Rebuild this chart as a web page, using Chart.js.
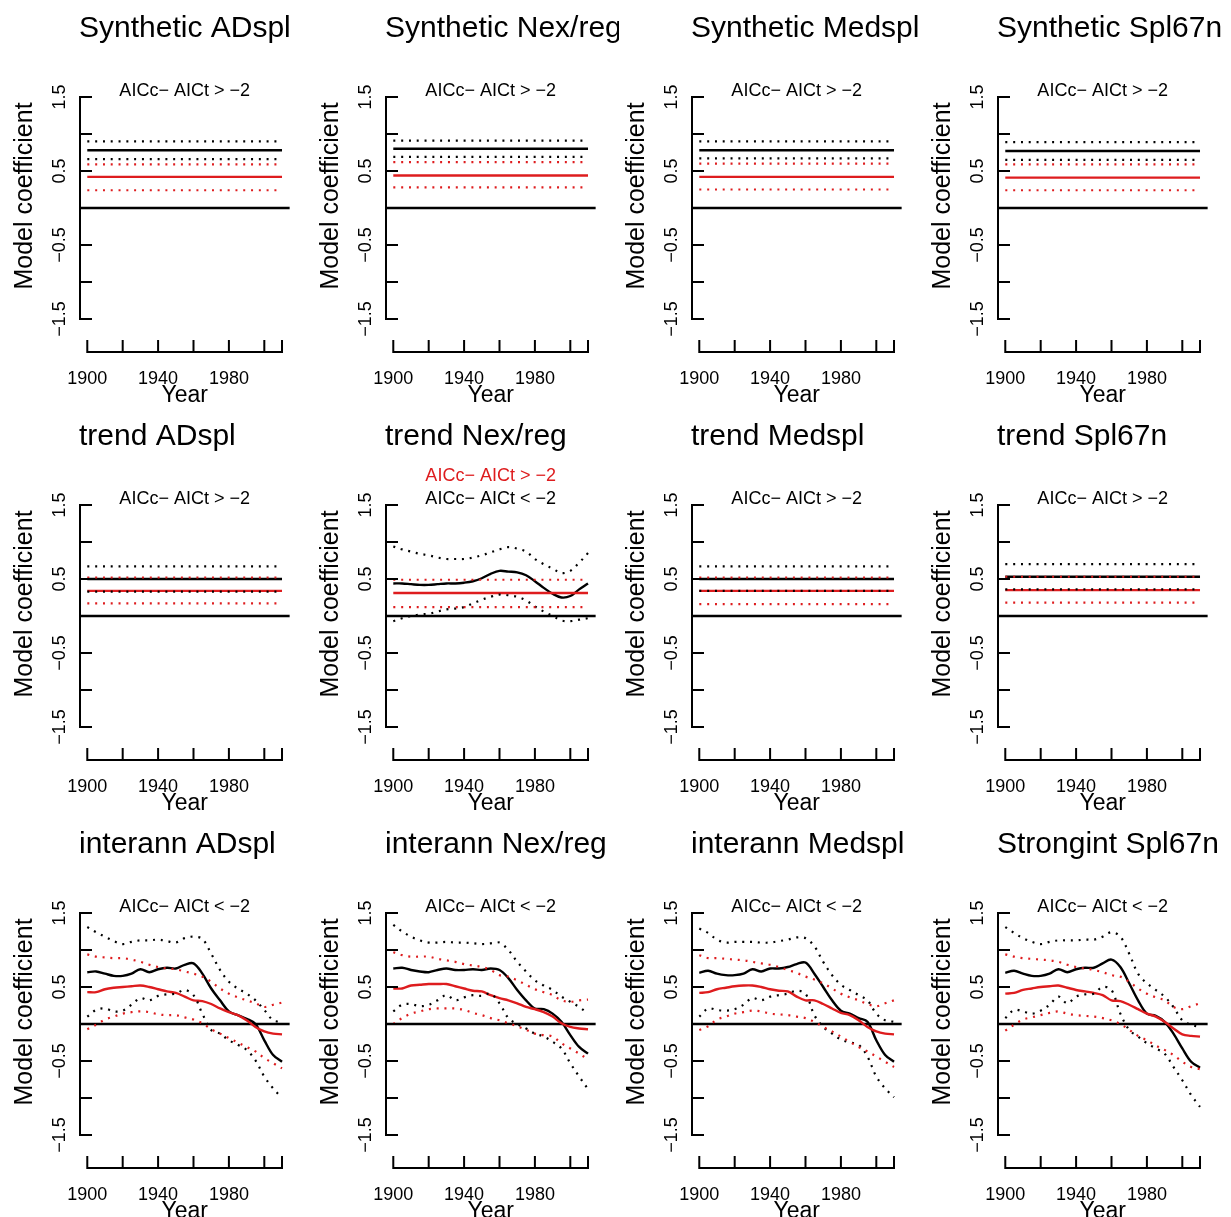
<!DOCTYPE html>
<html>
<head>
<meta charset="utf-8">
<script src="https://cdn.jsdelivr.net/npm/chart.js@4.4.0/dist/chart.umd.min.js"></script>
<style>
  body { margin: 0; background: #fff; width: 1231px; height: 1217px; overflow: hidden; position: relative; }
  canvas { position: absolute; }
</style>
</head>
<body>
<script>
// ---- data ----
const years = [1900,1905,1910,1915,1920,1925,1930,1935,1940,1945,1950,1955,1960,1965,1970,1975,1980,1985,1990,1995,2000,2005,2010];
const span = [1900, 2010];          // constant fits run over this period
const xLimits = [1895.6, 2014.4];
const yLimits = [-1.62, 1.62];
const xTicks = [1900, 1920, 1940, 1960, 1980, 2000, 2010];
const xLabels = [1900, 1940, 1980];
const yTicks = [-1.5, -1, -0.5, 0, 0.5, 1, 1.5];
const yLabels = [-1.5, -0.5, 0.5, 1.5];

const titles = ['Synthetic ADspl', 'Synthetic Nex/reg', 'Synthetic Medspl', 'Synthetic Spl67n',
                'trend ADspl', 'trend Nex/reg', 'trend Medspl', 'trend Spl67n',
                'interann ADspl', 'interann Nex/reg', 'interann Medspl', 'Strongint Spl67n'];
const noteKinds = ['gt','gt','gt','gt', 'gt','both','gt','gt', 'lt','lt','lt','lt'];

// row 1: synthetic (constant)
const synBlack   = [0.78, 0.80, 0.78, 0.77];
const synBlackHi = [0.90, 0.91, 0.90, 0.89];
const synBlackLo = [0.66, 0.69, 0.67, 0.65];
const synRed     = [0.42, 0.44, 0.42, 0.41];
const synRedHi   = [0.59, 0.62, 0.60, 0.59];
const synRedLo   = [0.24, 0.28, 0.25, 0.24];

// row 2: trend (constant, except black in Nex/reg)
const trendBlack   = [0.50, null, 0.50, 0.53];
const trendBlackHi = [0.67, null, 0.67, 0.70];
const trendBlackLo = [0.33, null, 0.34, 0.36];
const trendRed     = [0.34, 0.31, 0.34, 0.35];
const trendRedHi   = [0.52, 0.49, 0.52, 0.53];
const trendRedLo   = [0.17, 0.12, 0.16, 0.18];

const tnBlack   = [0.44,0.44,0.43,0.42,0.42,0.43,0.44,0.44,0.45,0.47,0.51,0.57,0.61,0.60,0.59,0.55,0.47,0.38,0.30,0.25,0.27,0.36,0.44];
const tnBlackHi = [0.94,0.90,0.87,0.84,0.82,0.79,0.77,0.77,0.77,0.79,0.82,0.86,0.90,0.93,0.91,0.87,0.77,0.70,0.64,0.58,0.61,0.72,0.85];
const tnBlackLo = [-0.07,-0.03,0.00,0.02,0.03,0.06,0.09,0.10,0.12,0.17,0.22,0.26,0.29,0.28,0.26,0.21,0.13,0.06,0.00,-0.06,-0.07,-0.05,-0.03];

// row 3: interannual / strong interannual
const adBlack   = [0.70,0.71,0.68,0.65,0.65,0.68,0.74,0.70,0.74,0.76,0.75,0.80,0.82,0.68,0.48,0.32,0.17,0.12,0.07,0.00,-0.22,-0.42,-0.51];
const adBlackHi = [1.31,1.24,1.18,1.12,1.08,1.11,1.13,1.13,1.14,1.12,1.10,1.16,1.18,1.15,0.95,0.73,0.57,0.48,0.41,0.32,0.19,0.05,0.03];
const adBlackLo = [0.10,0.19,0.21,0.17,0.18,0.26,0.35,0.32,0.38,0.40,0.41,0.46,0.39,0.14,-0.08,-0.13,-0.22,-0.28,-0.35,-0.49,-0.71,-0.87,-1.00];
const adRed     = [0.43,0.43,0.47,0.49,0.50,0.51,0.52,0.50,0.47,0.44,0.42,0.37,0.32,0.31,0.27,0.21,0.16,0.12,0.05,-0.04,-0.10,-0.13,-0.14];
const adRedHi   = [0.94,0.91,0.90,0.89,0.89,0.87,0.84,0.80,0.77,0.75,0.74,0.71,0.68,0.64,0.57,0.48,0.41,0.36,0.32,0.28,0.23,0.26,0.29];
const adRedLo   = [-0.07,-0.01,0.06,0.10,0.14,0.16,0.17,0.16,0.13,0.12,0.12,0.09,0.06,0.01,-0.07,-0.13,-0.19,-0.25,-0.31,-0.37,-0.46,-0.53,-0.60];

const nrBlack   = [0.75,0.76,0.73,0.71,0.70,0.73,0.75,0.73,0.73,0.74,0.73,0.75,0.73,0.62,0.46,0.32,0.21,0.20,0.14,0.03,-0.15,-0.31,-0.40];
const nrBlackHi = [1.34,1.25,1.18,1.13,1.10,1.10,1.11,1.10,1.10,1.09,1.08,1.09,1.10,1.00,0.84,0.71,0.59,0.52,0.46,0.37,0.30,0.23,0.14];
const nrBlackLo = [0.17,0.26,0.27,0.24,0.26,0.32,0.39,0.32,0.36,0.39,0.38,0.41,0.28,0.08,0.00,-0.06,-0.13,-0.17,-0.24,-0.33,-0.53,-0.71,-0.88];
const nrRed     = [0.48,0.48,0.52,0.53,0.54,0.54,0.54,0.51,0.48,0.45,0.44,0.39,0.35,0.32,0.28,0.23,0.20,0.16,0.10,0.01,-0.04,-0.06,-0.07];
const nrRedHi   = [0.97,0.93,0.91,0.91,0.91,0.88,0.86,0.84,0.81,0.79,0.77,0.73,0.66,0.64,0.59,0.53,0.47,0.43,0.39,0.32,0.30,0.32,0.33];
const nrRedLo   = [0.00,0.08,0.14,0.17,0.20,0.21,0.21,0.21,0.19,0.15,0.12,0.08,0.05,0.01,-0.03,-0.08,-0.13,-0.15,-0.17,-0.26,-0.33,-0.40,-0.48];

const mdBlack   = [0.69,0.72,0.68,0.66,0.66,0.68,0.74,0.71,0.75,0.75,0.77,0.81,0.83,0.68,0.50,0.32,0.18,0.14,0.08,0.03,-0.22,-0.42,-0.51];
const mdBlackHi = [1.29,1.23,1.14,1.10,1.11,1.11,1.11,1.10,1.10,1.12,1.14,1.17,1.16,1.05,0.84,0.66,0.53,0.46,0.39,0.32,0.14,0.05,0.03];
const mdBlackLo = [0.10,0.21,0.19,0.18,0.20,0.26,0.35,0.32,0.37,0.39,0.41,0.45,0.41,0.12,-0.04,-0.13,-0.21,-0.25,-0.28,-0.44,-0.71,-0.87,-0.99];
const mdRed     = [0.42,0.43,0.47,0.49,0.51,0.52,0.52,0.50,0.47,0.45,0.44,0.37,0.32,0.32,0.27,0.21,0.15,0.12,0.05,-0.04,-0.10,-0.13,-0.14];
const mdRedHi   = [0.93,0.89,0.89,0.88,0.87,0.86,0.84,0.82,0.80,0.77,0.73,0.69,0.64,0.60,0.55,0.48,0.41,0.36,0.32,0.27,0.24,0.28,0.32];
const mdRedLo   = [-0.08,-0.03,0.06,0.10,0.14,0.16,0.18,0.17,0.14,0.13,0.12,0.10,0.08,0.03,-0.04,-0.10,-0.17,-0.24,-0.31,-0.37,-0.44,-0.51,-0.58];

const spBlack   = [0.69,0.72,0.68,0.65,0.65,0.68,0.74,0.70,0.74,0.76,0.76,0.82,0.87,0.77,0.55,0.32,0.14,0.11,0.03,-0.13,-0.33,-0.51,-0.59];
const spBlackHi = [1.31,1.23,1.16,1.11,1.08,1.11,1.13,1.13,1.13,1.14,1.14,1.18,1.24,1.18,0.95,0.68,0.55,0.46,0.37,0.23,0.05,-0.01,-0.04];
const spBlackLo = [0.08,0.19,0.17,0.14,0.18,0.26,0.37,0.28,0.37,0.40,0.41,0.50,0.46,0.14,-0.08,-0.17,-0.26,-0.33,-0.40,-0.58,-0.76,-0.96,-1.12];
const spRed     = [0.41,0.42,0.46,0.48,0.50,0.51,0.52,0.49,0.46,0.44,0.42,0.39,0.32,0.31,0.26,0.20,0.14,0.10,0.03,-0.06,-0.14,-0.16,-0.17];
const spRedHi   = [0.94,0.91,0.89,0.88,0.87,0.86,0.84,0.80,0.77,0.75,0.73,0.70,0.66,0.64,0.57,0.48,0.41,0.36,0.32,0.23,0.20,0.24,0.28];
const spRedLo   = [-0.09,-0.01,0.06,0.09,0.12,0.15,0.17,0.14,0.12,0.11,0.10,0.08,0.05,0.00,-0.08,-0.16,-0.22,-0.29,-0.35,-0.42,-0.51,-0.58,-0.61];

// ---- drawing ----
const RED = 'rgb(222,28,30)';
const FONT = '"Liberation Sans", Arial, Helvetica, sans-serif';
const MINUS = '\u2212';

function flat(v) { return v == null ? [] : span.map(x => ({ x: x, y: v })); }
function curve(a) { return years.map((x, i) => ({ x: x, y: a[i] })); }
function fmt(v) { return (v < 0 ? MINUS : '') + Math.abs(v).toFixed(1); }

function line(data, color, dotted) {
  return {
    data: data,
    borderColor: color,
    borderWidth: dotted ? 2.2 : 2.4,
    borderDash: dotted ? [2, 5.8] : [],
    pointRadius: 0,
    tension: 0.35,
    fill: false
  };
}

const rowCurves = [
  [adBlack, adBlackHi, adBlackLo, adRed, adRedHi, adRedLo],
  [nrBlack, nrBlackHi, nrBlackLo, nrRed, nrRedHi, nrRedLo],
  [mdBlack, mdBlackHi, mdBlackLo, mdRed, mdRedHi, mdRedLo],
  [spBlack, spBlackHi, spBlackLo, spRed, spRedHi, spRedLo]
];

function panelLines(i) {
  const row = Math.floor(i / 4), j = i % 4;
  if (row === 0) {
    return [flat(synBlack[j]), flat(synBlackHi[j]), flat(synBlackLo[j]),
            flat(synRed[j]), flat(synRedHi[j]), flat(synRedLo[j])];
  }
  if (row === 1) {
    if (j === 1) {
      return [curve(tnBlack), curve(tnBlackHi), curve(tnBlackLo),
              flat(trendRed[j]), flat(trendRedHi[j]), flat(trendRedLo[j])];
    }
    return [flat(trendBlack[j]), flat(trendBlackHi[j]), flat(trendBlackLo[j]),
            flat(trendRed[j]), flat(trendRedHi[j]), flat(trendRedLo[j])];
  }
  return rowCurves[j].map(curve);
}

function axesPlugin(i) {
  return {
    id: 'rAxes',
    afterDraw(chart) {
      const ctx = chart.ctx, a = chart.chartArea;
      const xs = chart.scales.x, ys = chart.scales.y;
      const ax = 80, ay = a.bottom + 24;
      const cx = (a.left + a.right) / 2;
      ctx.save();
      ctx.strokeStyle = '#000';
      ctx.fillStyle = '#000';
      ctx.lineWidth = 2;
      ctx.lineCap = 'butt';

      // y axis
      ctx.beginPath();
      ctx.moveTo(ax, ys.getPixelForValue(1.5) - 1);
      ctx.lineTo(ax, ys.getPixelForValue(-1.5) + 1);
      yTicks.forEach(v => {
        const py = ys.getPixelForValue(v);
        ctx.moveTo(ax, py);
        ctx.lineTo(ax + 12, py);
      });
      // x axis
      ctx.moveTo(xs.getPixelForValue(xTicks[0]) - 1, ay);
      ctx.lineTo(xs.getPixelForValue(xTicks[xTicks.length - 1]) + 1, ay);
      xTicks.forEach(v => {
        const px = xs.getPixelForValue(v);
        ctx.moveTo(px, ay);
        ctx.lineTo(px, ay - 12);
      });
      ctx.stroke();

      // tick labels
      ctx.font = '18px ' + FONT;
      ctx.textAlign = 'center';
      ctx.textBaseline = 'alphabetic';
      xLabels.forEach(v => ctx.fillText(String(v), xs.getPixelForValue(v), 384));
      yLabels.forEach(v => {
        ctx.save();
        ctx.translate(65, ys.getPixelForValue(v));
        ctx.rotate(-Math.PI / 2);
        ctx.fillText(fmt(v), 0, 0);
        ctx.restore();
      });

      // axis titles
      ctx.font = '23px ' + FONT;
      ctx.fillText('Year', cx, 402);
      ctx.save();
      ctx.translate(32, 196);
      ctx.rotate(-Math.PI / 2);
      ctx.font = '25px ' + FONT;
      ctx.fillText('Model coefficient', 0, 0);
      ctx.restore();

      // panel title
      ctx.font = '30px ' + FONT;
      ctx.textAlign = 'left';
      ctx.fillText(titles[i], 79, 37);

      // AIC notes
      ctx.font = '18px ' + FONT;
      ctx.textAlign = 'center';
      const gt = 'AICc' + MINUS + ' AICt > ' + MINUS + '2';
      const lt = 'AICc' + MINUS + ' AICt < ' + MINUS + '2';
      if (noteKinds[i] === 'gt') ctx.fillText(gt, cx, 96);
      else if (noteKinds[i] === 'lt') ctx.fillText(lt, cx, 96);
      else {
        ctx.fillStyle = RED;
        ctx.fillText(gt, cx, 73);
        ctx.fillStyle = '#000';
        ctx.fillText(lt, cx, 96);
      }
      ctx.restore();
    }
  };
}

for (let i = 0; i < 12; i++) {
  const row = Math.floor(i / 4), col = i % 4;
  const cv = document.createElement('canvas');
  cv.width = 313;
  cv.height = 408;
  cv.style.left = (col * 306) + 'px';
  cv.style.top = (row * 408) + 'px';
  document.body.appendChild(cv);

  const L = panelLines(i);
  const datasets = [
    line(L[4], RED, true),
    line(L[5], RED, true),
    line(L[1], '#000', true),
    line(L[2], '#000', true),
    line(L[3], RED, false),
    line(L[0], '#000', false),
    line(xLimits.map(x => ({ x: x, y: 0 })), '#000', false)
  ];

  new Chart(cv, {
    type: 'line',
    data: { datasets: datasets },
    options: {
      responsive: false,
      animation: false,
      events: [],
      layout: { padding: { left: 79.5, right: 313 - 289.8, top: 88.1, bottom: 408 - 327.9 } },
      scales: {
        x: { type: 'linear', min: xLimits[0], max: xLimits[1], display: false },
        y: { type: 'linear', min: yLimits[0], max: yLimits[1], display: false }
      },
      plugins: { legend: { display: false }, tooltip: { enabled: false } }
    },
    plugins: [axesPlugin(i)]
  });
}
</script>
</body>
</html>
